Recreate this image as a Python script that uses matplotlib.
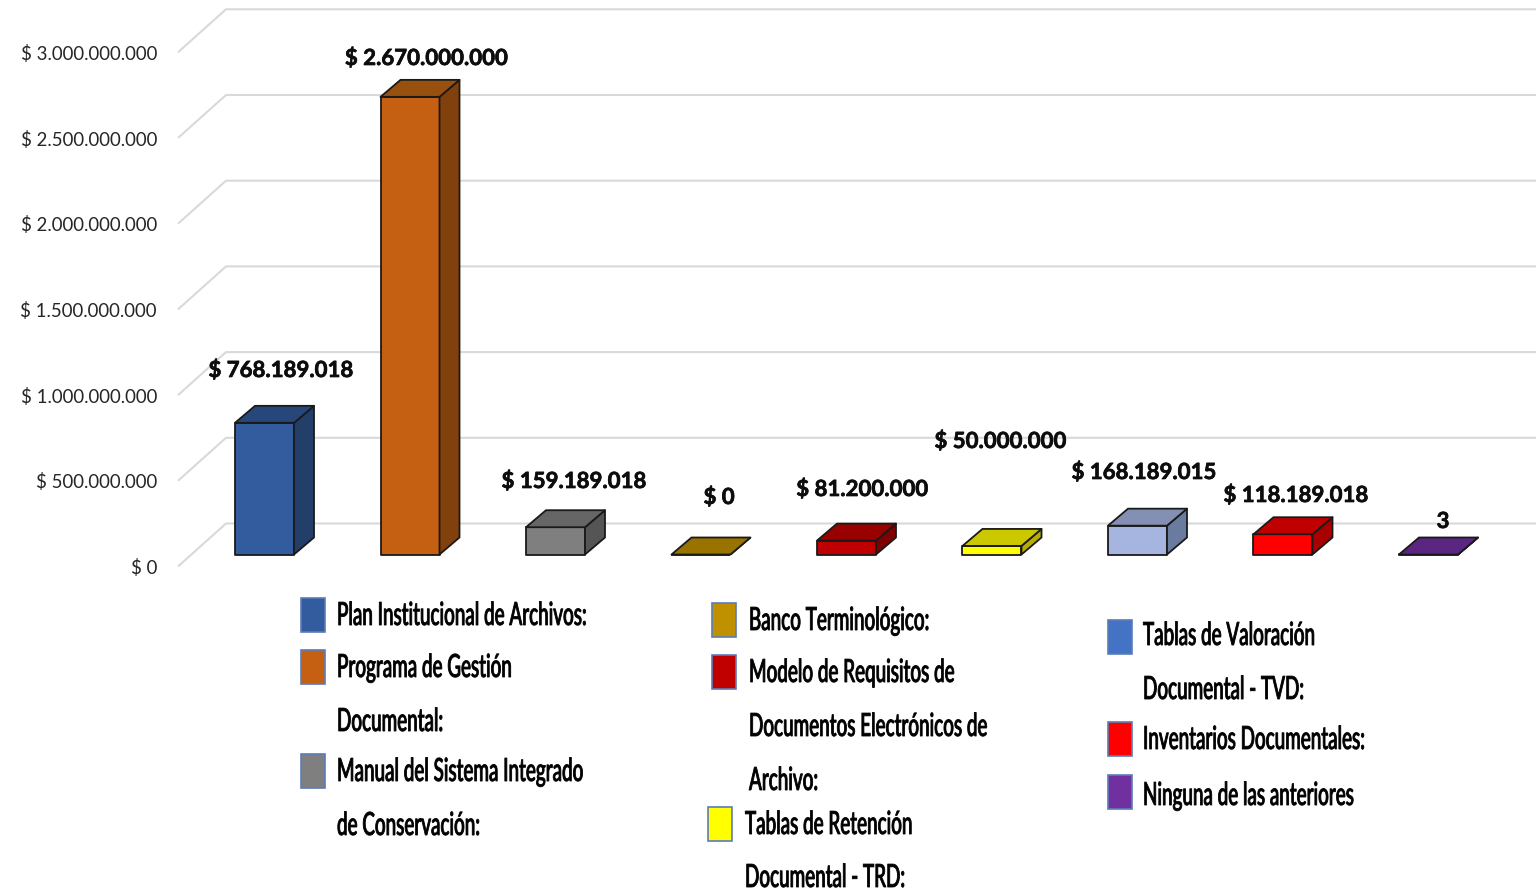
#!/usr/bin/env python3
import matplotlib
matplotlib.use("Agg")
import matplotlib.pyplot as plt
import matplotlib.patheffects as pe
from matplotlib.patches import Polygon, Rectangle
from matplotlib.transforms import Affine2D

# ---- data ----
values = [768189018, 2670000000, 159189018, 0, 81200000, 50000000, 168189015, 118189018, 3]
value_labels = ["$ 768.189.018", "$ 2.670.000.000", "$ 159.189.018", "$ 0", "$ 81.200.000",
                "$ 50.000.000", "$ 168.189.015", "$ 118.189.018", "3"]
tick_values = [0, 500000000, 1000000000, 1500000000, 2000000000, 2500000000, 3000000000]
tick_labels = ["$ 0", "$ 500.000.000", "$ 1.000.000.000", "$ 1.500.000.000",
               "$ 2.000.000.000", "$ 2.500.000.000", "$ 3.000.000.000"]
front_colors = ["#335C9E", "#C55F11", "#7F7F7F", "#BF9000", "#C00000", "#FFFF00", "#A6B5E0", "#FF0000", "#7030A0"]
top_colors = ["#27467A", "#98500F", "#666666", "#997300", "#990000", "#CCC800", "#8390B3", "#C00000", "#5A2682"]
side_colors = ["#233E69", "#82400C", "#555555", "#806000", "#7F0000", "#B5AE00", "#6A7BA0", "#A80000", "#4B2070"]

W, H = 1540, 891
# pixel geometry of the chart
X0, STEP = 264.5, 145.5
BASE, PX_PER_UNIT = 554.5, 85.7 / 5e8
BAR_W, DX, DY = 59 / STEP, 20 / STEP, 17 / PX_PER_UNIT


class Squeeze(pe.AbstractPathEffect):
    # narrows the glyphs horizontally and thickens them, the legend font is condensed and heavy
    def __init__(self, sx, stroke):
        super().__init__()
        self.sx = sx
        self.stroke = stroke

    def draw_path(self, renderer, gc, tpath, affine, rgbFace=None):
        gc0 = renderer.new_gc()
        gc0.copy_properties(gc)
        gc0.set_linewidth(self.stroke)
        gc0.set_foreground(rgbFace)
        renderer.draw_path(gc0, tpath, Affine2D().scale(self.sx, 1) + affine, rgbFace)
        gc0.restore()


def fx(px):
    return px / W


def fy(py):
    return 1 - py / H


fig = plt.figure(figsize=(W / 100, H / 100), dpi=100)
ax = fig.add_axes([0, 0, 1, 1])
ax.set_xlim(-X0 / STEP, (W - X0) / STEP)
ax.set_ylim((BASE - H) / PX_PER_UNIT, BASE / PX_PER_UNIT)
ax.axis("off")

# ---- floor / wall gridlines ----
for v, lab in zip(tick_values, tick_labels):
    xs = [(178 - X0) / STEP, (226 - X0) / STEP, (1536 - X0) / STEP]
    off_f = -12 / PX_PER_UNIT
    off_b = 31 / PX_PER_UNIT
    ax.plot(xs, [v + off_f, v + off_b, v + off_b], color="#D9D9D9", lw=1.5, zorder=1,
            solid_capstyle="butt")
    ax.text((157 - X0) / STEP, v + off_f - 1.5 / PX_PER_UNIT, lab, ha="right", va="center",
            fontsize=13.4, family=["Lato", "DejaVu Sans"], color="#262626")

# ---- 3D bars ----
edge = dict(edgecolor="#1A1A1A", linewidth=1.3, joinstyle="round")
for i, v in enumerate(values):
    l, r = i - BAR_W / 2, i + BAR_W / 2
    ax.bar(i, v, width=BAR_W, color=front_colors[i], zorder=3, **edge)
    ax.add_patch(Polygon([(r, 0), (r + DX, DY), (r + DX, v + DY), (r, v)],
                         facecolor=side_colors[i], zorder=3, **edge))
    ax.add_patch(Polygon([(l, v), (r, v), (r + DX, v + DY), (l + DX, v + DY)],
                         facecolor=top_colors[i], zorder=3, **edge))

# ---- data labels (pixel centres) ----
label_px = [(281, 370.5), (426, 58.5), (574, 481.5), (719, 497.5), (862, 489.5),
            (1000, 441.5), (1144, 472.5), (1296, 495.5), (1443, 521.5)]
for (px, py), lab in zip(label_px, value_labels):
    ax.text((px - X0) / STEP, (BASE - py) / PX_PER_UNIT, lab, ha="center", va="center",
            fontsize=16, fontweight="bold", family=["Lato", "DejaVu Sans"], color="#0D0D0D",
            path_effects=[pe.withStroke(linewidth=0.5, foreground="#0D0D0D")])

# ---- legend ----
legend_patches = [(301, 598, "#335C9E"), (301, 650, "#C55F11"), (301, 754, "#7F7F7F"),
                  (712, 603, "#BF9000"), (712, 655, "#C00000"), (708, 807, "#FFFF00"),
                  (1108, 620, "#4472C4"), (1108, 722, "#FF0000"), (1108, 775, "#7030A0")]
legend_rows = [(337, 616, "Plan Institucional de Archivos:"),
               (337, 668, "Programa de Gestión"),
               (337, 722, "Documental:"),
               (337, 772, "Manual del Sistema Integrado"),
               (337, 826, "de Conservación:"),
               (749, 621, "Banco Terminológico:"),
               (749, 673, "Modelo de Requisitos de"),
               (749, 727, "Documentos Electrónicos de"),
               (749, 781, "Archivo:"),
               (745, 825, "Tablas de Retención"),
               (745, 878, "Documental - TRD:"),
               (1143, 636, "Tablas de Valoración"),
               (1143, 690, "Documental - TVD:"),
               (1143, 740, "Inventarios Documentales:"),
               (1143, 796, "Ninguna de las anteriores")]
for px, py, col in legend_patches:
    fig.patches.append(Rectangle((fx(px), fy(py + 34)), 24 / W, 34 / H, transform=fig.transFigure,
                                 facecolor=col, edgecolor="#5B7DB8", linewidth=1.2))
for px, py, lab in legend_rows:
    fig.text(fx(px), fy(py), lab, ha="left", va="center", fontsize=23, fontweight=500,
             family=["Lato", "DejaVu Sans"], color="#000000",
             path_effects=[Squeeze(0.59, 0.6)])

fig.savefig("out.png", dpi=100)
